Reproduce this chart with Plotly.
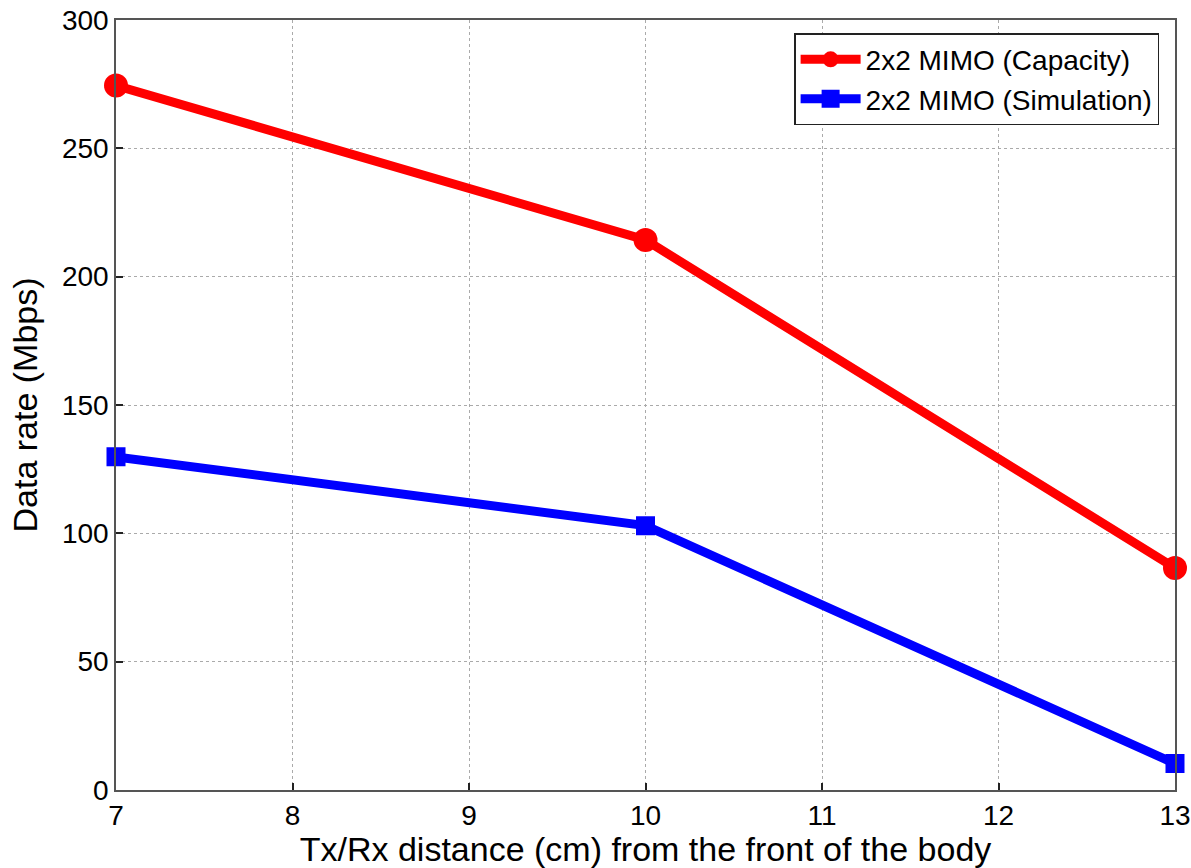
import plotly.graph_objects as go

# Data rate vs Tx/Rx distance
distance_cm = [7, 10, 13]
capacity_mbps = [274.5, 214.3, 86.5]
simulation_mbps = [129.8, 103.0, 10.3]

x_ticks = [7, 8, 9, 10, 11, 12, 13]
y_ticks = [0, 50, 100, 150, 200, 250, 300]

FONT = "Liberation Sans, Arial, sans-serif"

fig = go.Figure()
fig.add_trace(go.Scatter(
    x=distance_cm, y=capacity_mbps, mode="lines+markers",
    name="2x2 MIMO (Capacity)", cliponaxis=False,
    line=dict(color="#ff0000", width=9),
    marker=dict(symbol="circle", size=24, color="#ff0000"),
))
fig.add_trace(go.Scatter(
    x=distance_cm, y=simulation_mbps, mode="lines+markers",
    name="2x2 MIMO (Simulation)", cliponaxis=False,
    line=dict(color="#0000ff", width=9),
    marker=dict(symbol="square", size=17, color="#0000ff",
                line=dict(color="#0000ff", width=2)),
))

axis_common = dict(
    showline=True, linecolor="#555555", linewidth=1.5, mirror=True,
    ticks="inside", ticklen=7, tickcolor="#222222", tickwidth=1.5,
    showgrid=True, gridcolor="#aaaaaa", griddash="dot", gridwidth=1,
    zeroline=False, automargin=False,
    tickfont=dict(family=FONT, size=28, color="#000000"),
)

fig.update_xaxes(
    range=[7, 13], tickvals=x_ticks,
    title=dict(text="Tx/Rx distance (cm) from the front of the body",
               font=dict(family=FONT, size=34, color="#000000"), standoff=4),
    **axis_common,
)
fig.update_yaxes(
    range=[0, 300], tickvals=y_ticks,
    title=dict(text="Data rate (Mbps)",
               font=dict(family=FONT, size=34, color="#000000"), standoff=14),
    **axis_common,
)

fig.update_layout(
    width=1191, height=868,
    margin=dict(l=116, r=16, t=20, b=78),
    plot_bgcolor="white", paper_bgcolor="white",
    font=dict(family=FONT, color="#000000"),
    legend=dict(
        x=0.985, y=0.983, xanchor="right", yanchor="top",
        bgcolor="white", bordercolor="#222222", borderwidth=1.5,
        font=dict(family=FONT, size=28, color="#000000"),
        itemwidth=60, tracegroupgap=0,
    ),
    showlegend=True,
)

fig.write_html("out.html")
